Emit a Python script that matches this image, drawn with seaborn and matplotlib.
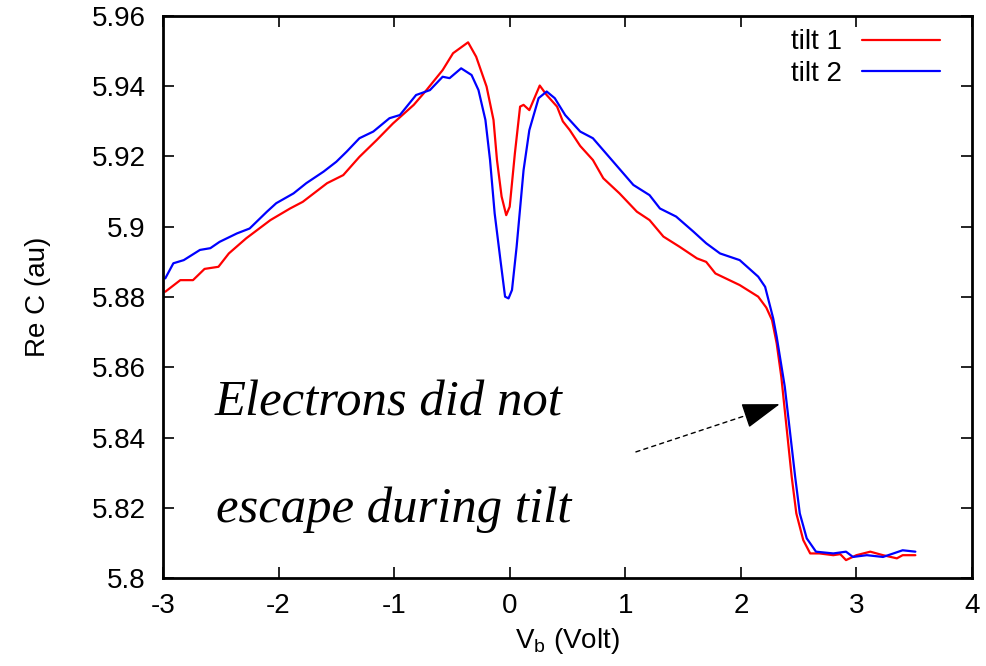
import numpy as np
import pandas as pd
import seaborn as sns
import matplotlib.pyplot as plt

# Bias voltage (V) and capacitance readings for the two tilt runs
tilt1_v = [-2.98, -2.85, -2.74, -2.64, -2.52, -2.43, -2.28, -2.07, -1.90, -1.79,
           -1.58, -1.44, -1.30, -1.15, -1.01, -0.83, -0.72, -0.58, -0.49, -0.36,
           -0.29, -0.20, -0.14, -0.11, -0.07, -0.03, 0.00, 0.045, 0.09, 0.12,
           0.17, 0.26, 0.32, 0.41, 0.46, 0.52, 0.61, 0.72, 0.81, 0.95,
           1.10, 1.21, 1.33, 1.47, 1.62, 1.70, 1.78, 1.99, 2.15, 2.22,
           2.27, 2.31, 2.35, 2.38, 2.41, 2.44, 2.48, 2.54, 2.60, 2.68,
           2.80, 2.86, 2.91, 3.00, 3.12, 3.23, 3.35, 3.40, 3.51]
tilt1_c = [5.8815, 5.8848, 5.8848, 5.8880, 5.8886, 5.8924, 5.8967, 5.9019, 5.9052, 5.9071,
           5.9124, 5.9147, 5.9199, 5.9247, 5.9294, 5.9347, 5.9389, 5.9446, 5.9494, 5.9525,
           5.9484, 5.9399, 5.9304, 5.9190, 5.9086, 5.9033, 5.9057, 5.9209, 5.9342, 5.9347,
           5.9332, 5.9402, 5.9375, 5.9342, 5.9300, 5.9275, 5.9230, 5.9190, 5.9138, 5.9095,
           5.9043, 5.9019, 5.8972, 5.8943, 5.8910, 5.8900, 5.8867, 5.8834, 5.8801, 5.8770,
           5.8734, 5.8668, 5.8573, 5.8478, 5.8383, 5.8288, 5.8184, 5.8108, 5.8070, 5.8070,
           5.8065, 5.8068, 5.8051, 5.8065, 5.8075, 5.8065, 5.8056, 5.8065, 5.8065]

tilt2_v = [-2.98, -2.91, -2.82, -2.68, -2.59, -2.51, -2.36, -2.25, -2.10, -2.02,
           -1.87, -1.76, -1.61, -1.50, -1.41, -1.30, -1.18, -1.04, -0.95, -0.81,
           -0.69, -0.58, -0.52, -0.42, -0.33, -0.27, -0.21, -0.17, -0.13, -0.08,
           -0.04, -0.01, 0.02, 0.06, 0.12, 0.17, 0.25, 0.32, 0.39, 0.48,
           0.61, 0.72, 0.87, 1.07, 1.21, 1.30, 1.44, 1.59, 1.70, 1.82,
           1.99, 2.15, 2.21, 2.28, 2.31, 2.38, 2.42, 2.47, 2.51, 2.57,
           2.65, 2.80, 2.91, 2.97, 3.09, 3.23, 3.32, 3.40, 3.51]
tilt2_c = [5.8853, 5.8896, 5.8905, 5.8934, 5.8939, 5.8957, 5.8981, 5.8995, 5.9043, 5.9067,
           5.9095, 5.9124, 5.9157, 5.9185, 5.9214, 5.9252, 5.9271, 5.9309, 5.9318, 5.9375,
           5.9389, 5.9427, 5.9423, 5.9451, 5.9432, 5.9389, 5.9304, 5.9190, 5.9038, 5.8905,
           5.8801, 5.8796, 5.8820, 5.8943, 5.9161, 5.9275, 5.9366, 5.9385, 5.9366, 5.9318,
           5.9271, 5.9252, 5.9195, 5.9119, 5.9090, 5.9052, 5.9029, 5.8986, 5.8953, 5.8924,
           5.8905, 5.8858, 5.8829, 5.8739, 5.8687, 5.8545, 5.8431, 5.8288, 5.8184, 5.8113,
           5.8075, 5.8070, 5.8075, 5.8060, 5.8065, 5.8060, 5.8070, 5.8079, 5.8075]

x_ticks = [-3, -2, -1, 0, 1, 2, 3, 4]
x_tick_labels = ['-3', '-2', '-1', '0', '1', '2', '3', '4']
y_ticks = [5.80, 5.82, 5.84, 5.86, 5.88, 5.90, 5.92, 5.94, 5.96]
y_tick_labels = ['5.8', '5.82', '5.84', '5.86', '5.88', '5.9', '5.92', '5.94', '5.96']

df = pd.concat([
    pd.DataFrame({'V': tilt1_v, 'C': tilt1_c, 'series': 'tilt 1'}),
    pd.DataFrame({'V': tilt2_v, 'C': tilt2_c, 'series': 'tilt 2'}),
], ignore_index=True)

sns.set_style("ticks")
plt.rcParams['font.family'] = ['Liberation Sans', 'DejaVu Sans']
plt.rcParams['text.color'] = 'black'
plt.rcParams['axes.labelcolor'] = 'black'
plt.rcParams['mathtext.fontset'] = 'custom'
plt.rcParams['mathtext.rm'] = 'Liberation Sans'
plt.rcParams['mathtext.it'] = 'Liberation Sans:italic'

fig = plt.figure(figsize=(9.87, 6.66), dpi=100)
ax = fig.add_axes([0.1651, 0.1321, 0.8197, 0.8439])

sns.lineplot(data=df, x='V', y='C', hue='series',
             palette={'tilt 1': '#ff0000', 'tilt 2': '#0000ff'},
             linewidth=1.6, sort=False, estimator=None, ax=ax)

ax.set_xlim(-3, 4)
ax.set_ylim(5.80, 5.96)
ax.set_xticks(x_ticks)
ax.set_xticklabels(x_tick_labels)
ax.set_yticks(y_ticks)
ax.set_yticklabels(y_tick_labels)
ax.tick_params(axis='both', direction='in', length=8, width=1.2,
               top=True, right=True, labelsize=20, colors='black')
ax.tick_params(axis='x', pad=11)
ax.tick_params(axis='y', pad=12.5)
for s in ax.spines.values():
    s.set_linewidth(2)
    s.set_color('black')

ax.set_xlabel(r'V$_{\mathrm{b}}$ (Volt)', fontsize=20, labelpad=5)
ax.set_ylabel('Re C (au)', fontsize=20, labelpad=29)

leg = ax.legend(loc='upper right', bbox_to_anchor=(0.974, 0.996), borderaxespad=0,
                frameon=False, markerfirst=False, fontsize=20, handlelength=2.8,
                handletextpad=0.72, labelspacing=0.2)
for t in leg.get_texts():
    t.set_color('black')

# Handwritten-style note with a dashed pointer to the step
note_kw = dict(fontfamily='Liberation Serif', style='italic', fontsize=36.5,
               va='baseline', ha='left', color='black')
ax.text(-2.55, 5.8464, 'Electrons did not', **note_kw)
ax.text(-2.54, 5.8160, 'escape during tilt', **note_kw)

ax.annotate('', xy=(2.065, 5.8465), xytext=(1.092, 5.8359),
            arrowprops=dict(arrowstyle='-', linestyle=(0, (3, 3)), lw=1,
                            color='black', shrinkA=0, shrinkB=0))
ax.annotate('', xy=(2.337, 5.8495), xytext=(2.065, 5.8465),
            arrowprops=dict(arrowstyle='-|>,head_length=1.2,head_width=0.4',
                            mutation_scale=20, lw=1, color='black',
                            fc='black', shrinkA=0, shrinkB=0))

fig.savefig('out.png', dpi=100)
